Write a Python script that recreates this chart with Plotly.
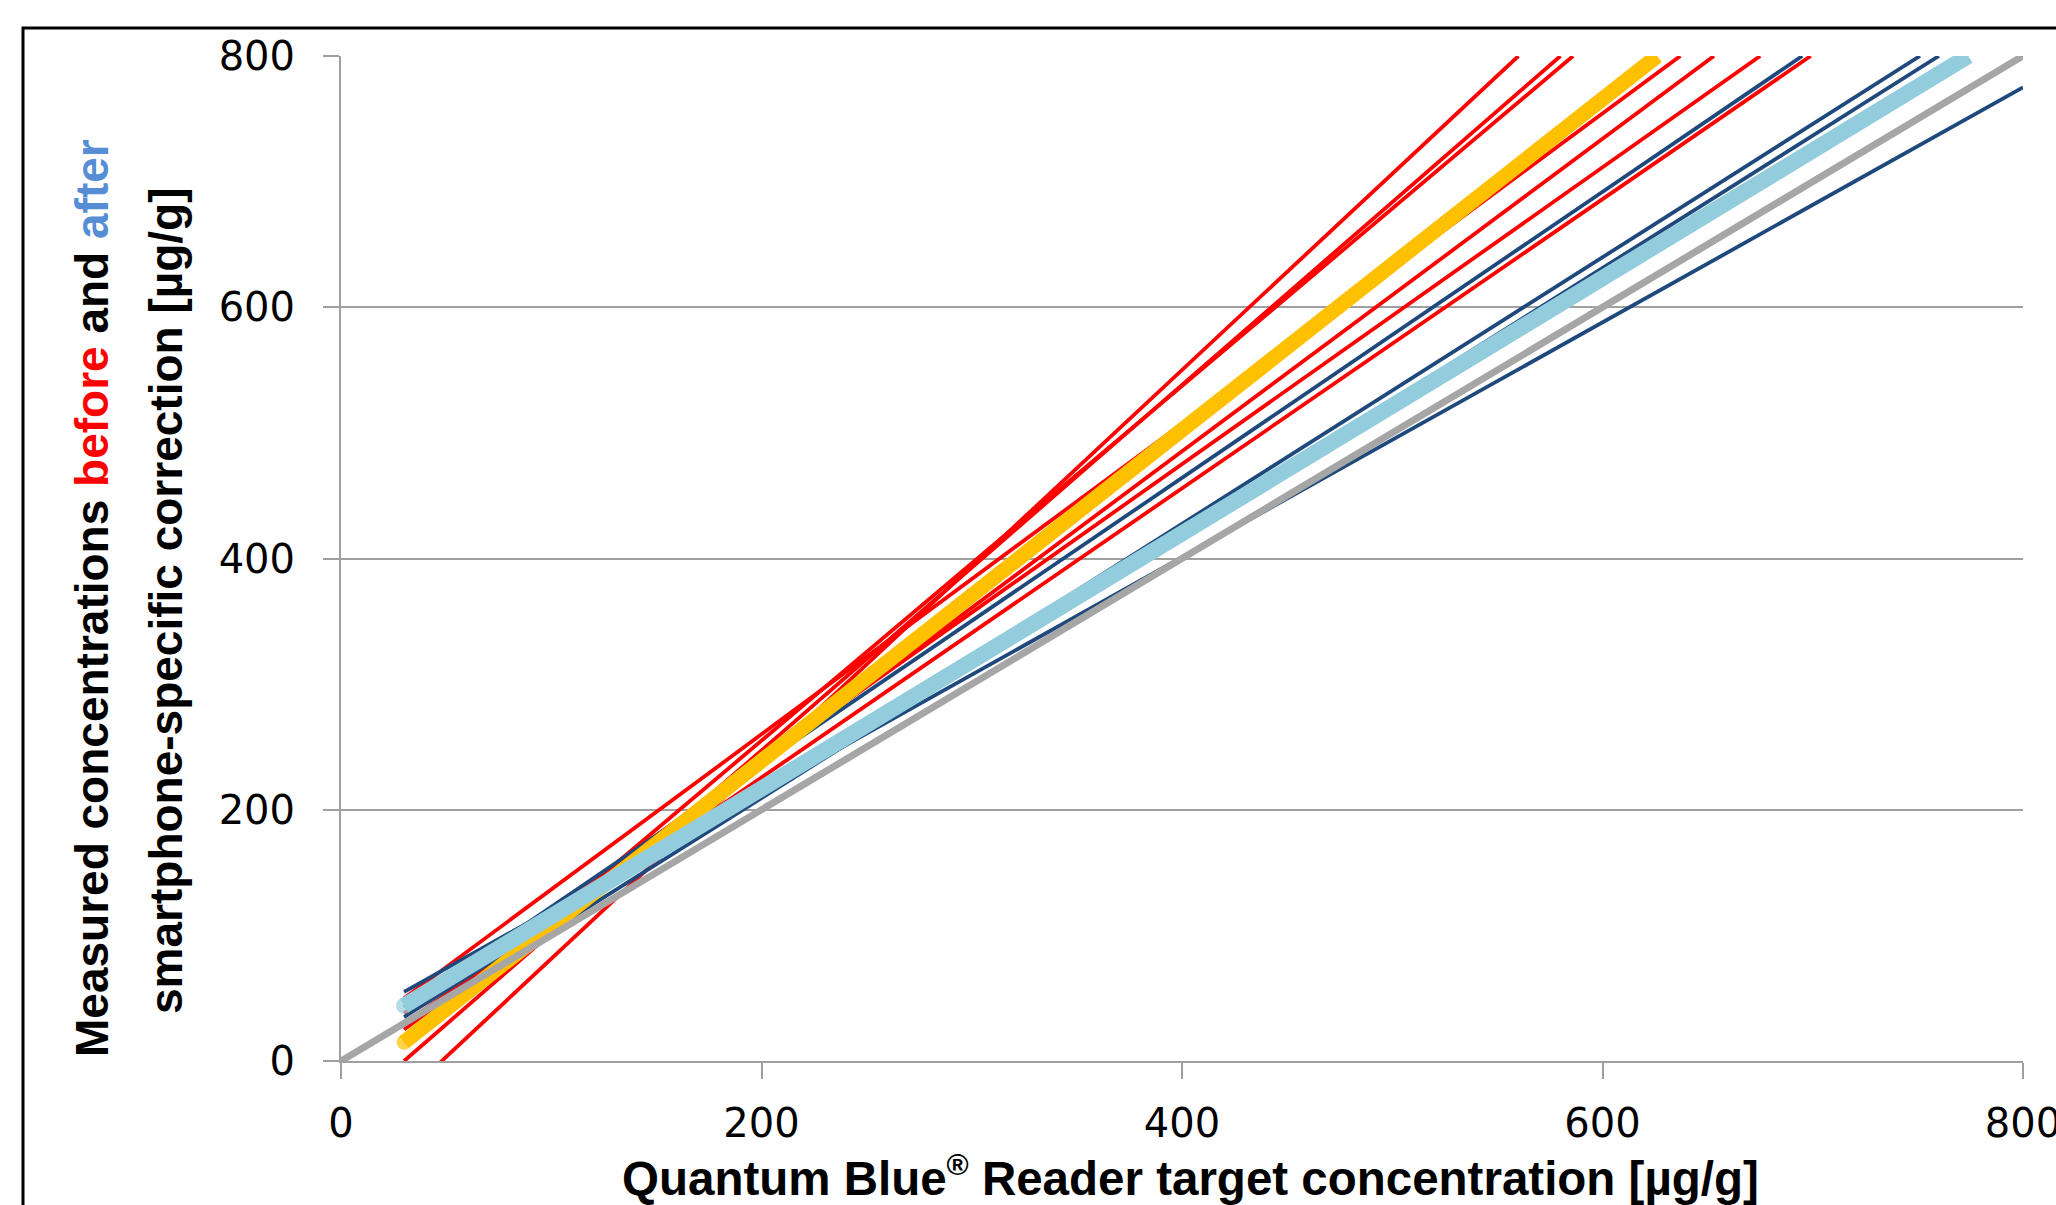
import plotly.graph_objects as go

# ---- data ----
# "before correction" trend lines (red): start point and end point
before_start_x = [30, 30, 30, 30, 30, 30, 30]
before_start_y = [-28, 0, 15, 50, 25, 38, 30]
before_end_x = [560, 580, 586, 637, 653, 675, 699]
before_end_y = [800, 800, 800, 800, 800, 800, 800]

# "after correction" trend lines (dark blue)
after_start_x = [30, 30, 30, 30]
after_start_y = [55, 43, 35, 30]
after_end_x = [800, 695, 751, 760]
after_end_y = [775, 800, 800, 800]

# mean lines
before_mean_x = [30, 626]
before_mean_y = [15, 800]
after_mean_x = [30, 774]
after_mean_y = [44, 800]

# identity line
ident_x = [0, 800]
ident_y = [0, 800]

tick_vals = [0, 200, 400, 600, 800]
tick_text = ["0", "200", "400", "600", "800"]

RED = "#FF0000"
NAVY = "#1F497D"
YELLOW = "#FFC000"
LIGHTBLUE = "#93CDDD"
GRAY = "#A6A6A6"
AXIS = "#A0A0A0"

fig = go.Figure()

for i in range(len(before_start_x)):
    fig.add_trace(go.Scatter(
        x=[before_start_x[i], before_end_x[i]],
        y=[before_start_y[i], before_end_y[i]],
        mode="lines", line=dict(color=RED, width=3.8),
        showlegend=False, hoverinfo="skip"))

for i in range(len(after_start_x)):
    fig.add_trace(go.Scatter(
        x=[after_start_x[i], after_end_x[i]],
        y=[after_start_y[i], after_end_y[i]],
        mode="lines", line=dict(color=NAVY, width=3.8),
        showlegend=False, hoverinfo="skip"))

fig.add_trace(go.Scatter(
    x=before_mean_x, y=before_mean_y, mode="lines+markers",
    line=dict(color=YELLOW, width=15),
    marker=dict(color=YELLOW, size=[15, 0], line=dict(width=0)),
    showlegend=False, hoverinfo="skip"))

fig.add_trace(go.Scatter(
    x=after_mean_x, y=after_mean_y, mode="lines+markers",
    line=dict(color=LIGHTBLUE, width=16),
    marker=dict(color=LIGHTBLUE, size=[16, 0], line=dict(width=0)),
    showlegend=False, hoverinfo="skip"))

fig.add_trace(go.Scatter(
    x=ident_x, y=ident_y, mode="lines",
    line=dict(color=GRAY, width=7),
    showlegend=False, hoverinfo="skip"))

W, H = 2056, 1205
L, R, T, B = 341, 33, 56, 144
pw, ph = W - L - R, H - T - B

def px(xp):
    return (xp - L) / pw

def py(yp):
    return (H - B - yp) / ph

tickfont = dict(family="DejaVu Sans", size=40, color="#000000")

fig.update_layout(
    width=W, height=H,
    margin=dict(l=L, r=R, t=T, b=B, pad=0, autoexpand=False),
    paper_bgcolor="white", plot_bgcolor="white",
    xaxis=dict(range=[0, 800], tickvals=tick_vals, ticktext=tick_text,
               showgrid=False, zeroline=False, showline=True,
               linecolor=AXIS, linewidth=2, ticks="outside", ticklen=16,
               tickcolor=AXIS, tickwidth=2, tickfont=tickfont,
               ticklabelstandoff=10, ticklabeloverflow="allow",
               automargin=False),
    yaxis=dict(range=[0, 800], tickvals=tick_vals, ticktext=tick_text,
               showgrid=True, gridcolor=AXIS, gridwidth=1.5,
               zeroline=False, showline=True,
               linecolor=AXIS, linewidth=2, ticks="outside", ticklen=16,
               tickcolor=AXIS, tickwidth=2, tickfont=tickfont,
               ticklabelstandoff=20, ticklabeloverflow="allow",
               automargin=False),
    font=dict(family="Liberation Sans", color="#000000"),
)

xtitle_font = dict(family="Liberation Sans", size=47.5, color="#000000")
ytitle_font = dict(family="Liberation Sans", size=46, color="#000000")

fig.add_annotation(
    text="<b>Quantum Blue<sup><span style='font-size:30px'>®</span></sup>"
         " Reader target concentration [µg/g]</b>",
    xref="paper", yref="paper", x=px(1190), y=py(1176),
    xanchor="center", yanchor="middle", showarrow=False, font=xtitle_font)

fig.add_annotation(
    text="<b>Measured concentrations <span style='color:#FF0000'>before</span> and "
         "<span style='color:#558ED5'>after</span></b>",
    xref="paper", yref="paper", x=px(92), y=py(598), textangle=-90,
    xanchor="center", yanchor="middle", showarrow=False, font=ytitle_font)

fig.add_annotation(
    text="<b>smartphone-specific correction [µg/g]</b>",
    xref="paper", yref="paper", x=px(166), y=py(601), textangle=-90,
    xanchor="center", yanchor="middle", showarrow=False, font=ytitle_font)

# outer chart border (extends beyond the cropped image)
fig.add_shape(type="rect", xref="paper", yref="paper",
              x0=px(23), y0=py(1300), x1=px(2150), y1=py(28),
              line=dict(color="black", width=3), fillcolor="rgba(0,0,0,0)",
              layer="above")

fig.write_html("out.html",
               config={"displayModeBar": False},
               post_script="document.body.style.margin='0';"
                           "document.body.style.overflow='hidden';")
